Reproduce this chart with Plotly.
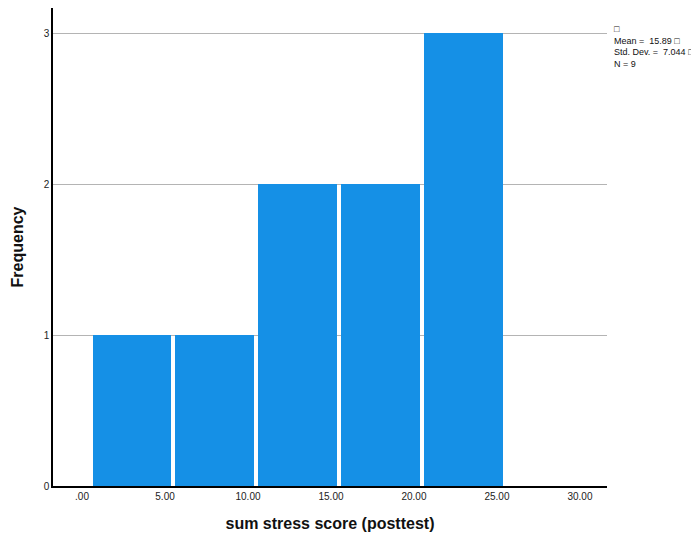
import plotly.graph_objects as go

bin_centers = [3, 8, 13, 18, 23]
frequencies = [1, 1, 2, 2, 3]
x_tick_vals = [0, 5, 10, 15, 20, 25, 30]
x_tick_text = [".00", "5.00", "10.00", "15.00", "20.00", "25.00", "30.00"]
y_tick_vals = [0, 1, 2, 3]
stats_lines = ["\u25a1", "Mean =  15.89 \u25a1", "Std. Dev. =  7.044 \u25a1", "N = 9"]

fig = go.Figure()
fig.add_trace(go.Bar(
    x=bin_centers, y=frequencies, width=4.74,
    marker=dict(color="#1590e6", line=dict(width=0)),
    showlegend=False,
))

fig.update_layout(
    width=699, height=538,
    margin=dict(l=45, r=100, t=0, b=60),
    paper_bgcolor="white", plot_bgcolor="white",
    font=dict(family="Liberation Sans, Arial, sans-serif", color="#222222", size=10),
    bargap=0,
    xaxis=dict(
        range=[-1.75, 31.63], tickvals=x_tick_vals, ticktext=x_tick_text,
        showgrid=False, zeroline=False, showline=True, linecolor="black", linewidth=1.5,
        ticks="", ticklen=0, tickfont=dict(size=10),
        title=dict(text="<b>sum stress score (posttest)</b>", font=dict(size=16, color="#111"), standoff=17),
    ),
    yaxis=dict(
        range=[0, 3.166], tickvals=y_tick_vals,
        showgrid=True, gridcolor="#b4b4b4", gridwidth=1, zeroline=False,
        showline=True, linecolor="black", linewidth=1.5,
        ticks="", tickfont=dict(size=10),
        title=dict(text="<b>Frequency</b>", font=dict(size=16, color="#111"), standoff=16),
    ),
    annotations=[dict(
        xref="paper", yref="paper", x=1.0, y=1.0, xshift=5, yshift=-14,
        xanchor="left", yanchor="top", align="left", showarrow=False,
        text="<br>".join(stats_lines), font=dict(size=9, color="#111"),
    )],
)

fig.write_html("out.html")
